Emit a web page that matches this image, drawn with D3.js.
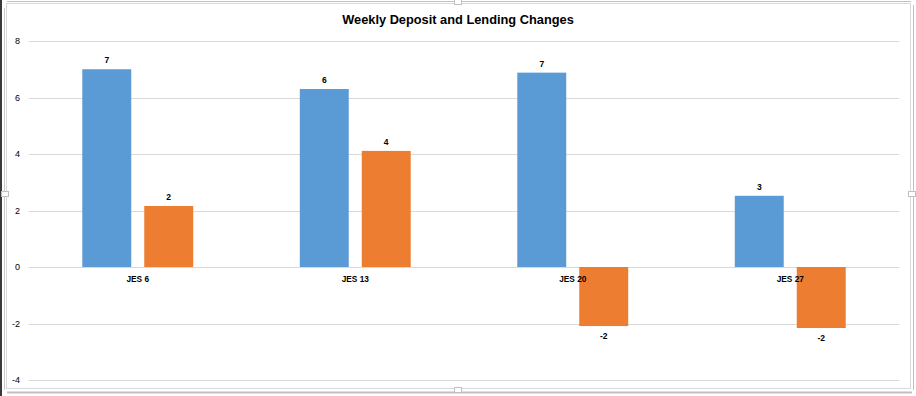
<!DOCTYPE html>
<html lang="en">
<head>
    <meta charset="utf-8" />
    <title>Weekly Deposit and Lending Changes</title>
    <script src="https://cdnjs.cloudflare.com/ajax/libs/d3/7.8.5/d3.min.js"></script>
    <style>
        body { margin: 0; background: #fff; }
        text { font-family: "Liberation Sans", Arial, sans-serif; fill: #000; }
        .grid line { stroke: #d9d9d9; stroke-width: 1; }
        .title { font-size: 12.8px; font-weight: bold; }
        .tick-label { font-size: 9px; }
        .cat-label { font-size: 8.3px; font-weight: bold; }
        .val-label { font-size: 8.5px; font-weight: bold; }
    </style>
</head>
<body>
<div id="chart"></div>
<script>
    // data
    const weeks = ["JES 6", "JES 13", "JES 20", "JES 27"];
    const seriesNames = ["Deposit", "Lending"];
    const deposit = [7.0, 6.3, 6.88, 2.52];
    const lending = [2.16, 4.11, -2.09, -2.16];
    const yTicks = [-4, -2, 0, 2, 4, 6, 8];

    const colors = ["#5b9bd5", "#ed7d31"];
    const width = 916;
    const height = 396;

    const svg = d3.select("#chart")
        .append("svg")
        .attr("width", width)
        .attr("height", height);

    // window frame around the chart (selected chart look)
    const frame = svg.append("g");
    frame.append("line").attr("x1", 1).attr("x2", 1).attr("y1", 0).attr("y2", height)
        .attr("stroke", "#3a3a3a").attr("stroke-width", 2);
    frame.append("line").attr("x1", 4.5).attr("x2", 4.5).attr("y1", 8).attr("y2", 390)
        .attr("stroke", "#c8c8c8");
    frame.append("line").attr("x1", 7).attr("x2", 911).attr("y1", 1.5).attr("y2", 1.5)
        .attr("stroke", "#c0c0c0");
    frame.append("line").attr("x1", 913.5).attr("x2", 913.5).attr("y1", 5).attr("y2", 390)
        .attr("stroke", "#c0c0c0");
    frame.append("line").attr("x1", 7).attr("x2", 912).attr("y1", 392.5).attr("y2", 392.5)
        .attr("stroke", "#c0c0c0").attr("stroke-width", 2);
    frame.append("rect")
        .attr("x", 6.5).attr("y", 3.5).attr("width", 904).attr("height", 385)
        .attr("fill", "#fff").attr("stroke", "#d9d9d9");
    // little handles on the frame
    [[458, 2], [458, 390], [912, 194], [5, 194]].forEach(([hx, hy]) => {
        frame.append("rect").attr("x", hx - 3.5).attr("y", hy - 2.5)
            .attr("width", 7).attr("height", 5)
            .attr("fill", "#fff").attr("stroke", "#c0c0c0");
    });

    const x0 = d3.scaleBand()
        .domain(weeks)
        .range([29, 899])
        .paddingInner(0.49)
        .paddingOuter(0.245);

    const x1 = d3.scaleBand()
        .domain(seriesNames)
        .range([0, x0.bandwidth()])
        .paddingInner(0.21);

    const y = d3.scaleLinear()
        .domain([-4, 8])
        .range([380, 41]);

    // gridlines
    svg.append("g")
        .attr("class", "grid")
        .selectAll("line")
        .data(yTicks)
        .join("line")
        .attr("x1", 29)
        .attr("x2", 899)
        .attr("y1", d => Math.round(y(d)) + 0.5)
        .attr("y2", d => Math.round(y(d)) + 0.5);

    // y axis labels
    svg.append("g")
        .selectAll("text")
        .data(yTicks)
        .join("text")
        .attr("class", "tick-label")
        .attr("x", 20)
        .attr("y", d => y(d) + 3)
        .attr("text-anchor", "end")
        .text(d => d);

    const rows = weeks.map((w, i) => ({
        week: w,
        values: [
            { series: "Deposit", value: deposit[i], color: colors[0] },
            { series: "Lending", value: lending[i], color: colors[1] }
        ]
    }));

    const groups = svg.append("g")
        .selectAll("g")
        .data(rows)
        .join("g")
        .attr("transform", d => `translate(${x0(d.week)},0)`);

    groups.selectAll("rect")
        .data(d => d.values)
        .join("rect")
        .attr("x", d => x1(d.series))
        .attr("width", x1.bandwidth())
        .attr("y", d => y(Math.max(0, d.value)))
        .attr("height", d => Math.abs(y(d.value) - y(0)))
        .attr("fill", d => d.color);

    // category labels (drawn before value labels, over the bars like Excel)
    svg.append("g")
        .selectAll("text")
        .data(weeks)
        .join("text")
        .attr("class", "cat-label")
        .attr("x", d => x0(d) + x0.bandwidth() / 2)
        .attr("y", y(0) + 15)
        .attr("text-anchor", "middle")
        .text(d => d);

    groups.selectAll("text")
        .data(d => d.values)
        .join("text")
        .attr("class", "val-label")
        .attr("x", d => x1(d.series) + x1.bandwidth() / 2)
        .attr("y", d => d.value >= 0 ? y(d.value) - 6 : y(d.value) + 13)
        .attr("text-anchor", "middle")
        .text(d => String(Math.round(d.value)));

    // title
    svg.append("text")
        .attr("class", "title")
        .attr("x", 458)
        .attr("y", 24)
        .attr("text-anchor", "middle")
        .text("Weekly Deposit and Lending Changes");
</script>
</body>
</html>
